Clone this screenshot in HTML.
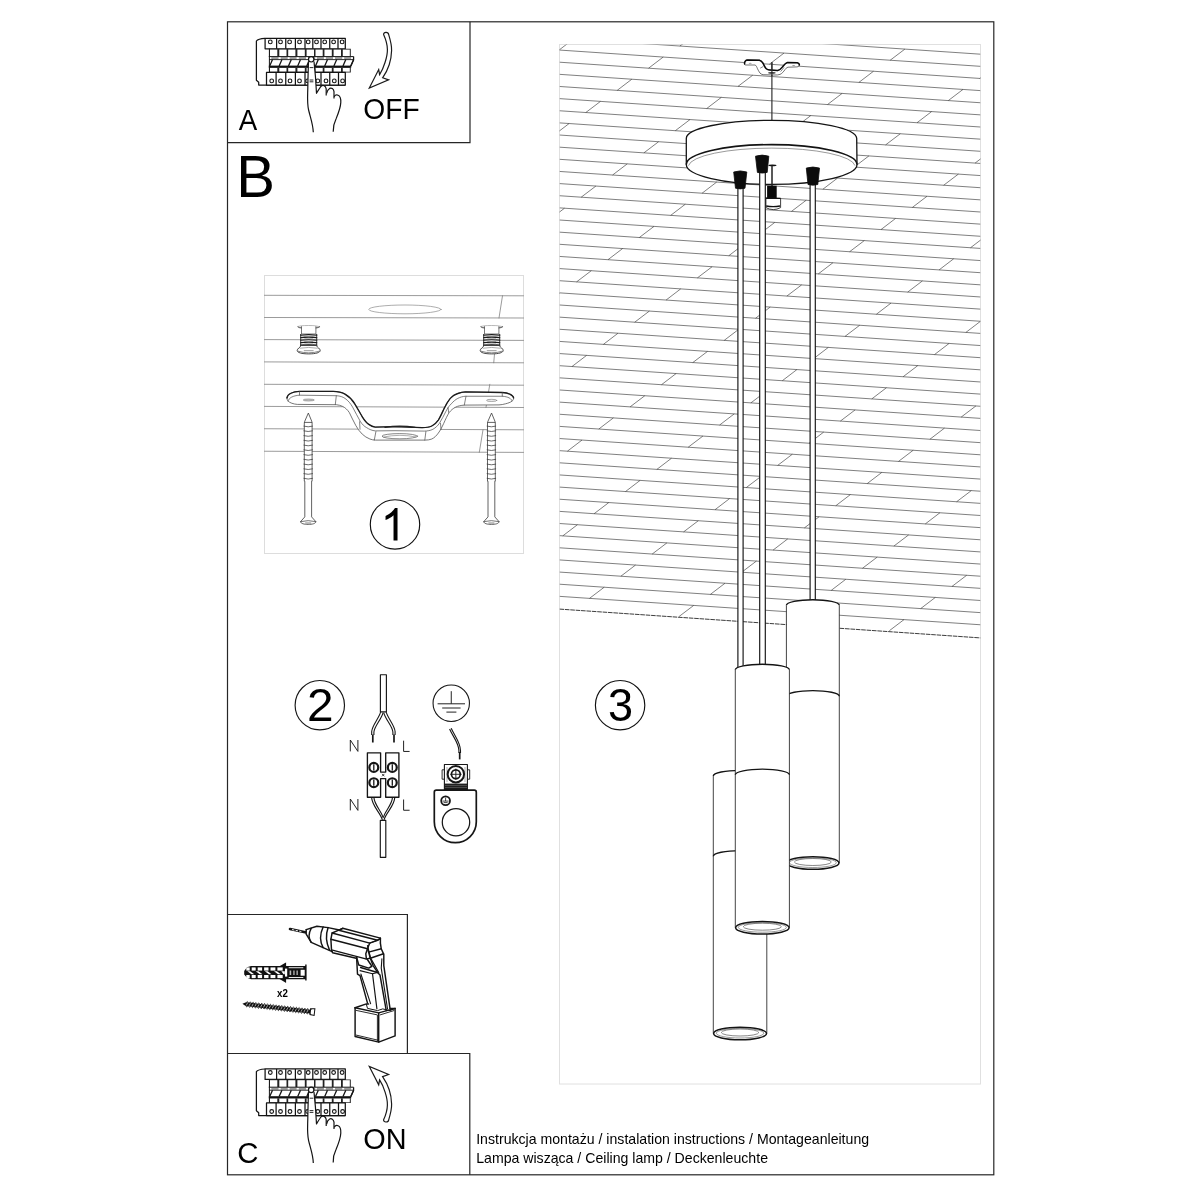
<!DOCTYPE html>
<html><head><meta charset="utf-8">
<style>
html,body{margin:0;padding:0;background:#fff;}
body{width:1200px;height:1200px;overflow:hidden;font-family:"Liberation Sans",sans-serif;}
svg{display:block;position:absolute;left:0;top:0;filter:grayscale(1);}
text{font-family:"Liberation Sans",sans-serif;fill:#000;}
</style></head><body>
<svg width="1200" height="1200" viewBox="0 0 1200 1200">
<rect width="1200" height="1200" fill="#fff"/>
<g id="frame" fill="none" stroke="#262626" stroke-width="1.2">
<rect x="227.5" y="21.8" width="766.3" height="1153"/>
<path d="M227.5 142.7H470V21.8"/>
<path d="M227.5 914.5H407.4V1053.5"/>
<path d="M227.5 1053.5H469.8V1174.8"/>
</g>
<rect x="559.5" y="44.5" width="421" height="1039.5" fill="none" stroke="#e0e0e0" stroke-width="1"/>
<rect x="264.5" y="275.5" width="259" height="278" fill="none" stroke="#ddd" stroke-width="1"/>
<g fill="none" stroke="#141414" stroke-width="1.25" stroke-linejoin="round">
<path d="M265.1 38.4 Q258 38.8 256.4 41 V80.2 L258.7 82.2 V85 H345.3"/>
<path d="M265.1 38.4H345.3V48.8H265.1Z" fill="#fff"/>
<path d="M276.6 38.4V48.8"/><path d="M285.75 38.4V48.8"/><path d="M295.4 38.4V48.8"/><path d="M305 38.4V48.8"/><path d="M312.8 38.4V48.8"/><path d="M321 38.4V48.8"/><path d="M329.75 38.4V48.8"/><path d="M338 38.4V48.8"/>
<circle cx="270.3" cy="41.9" r="1.85" stroke-width="1.1"/><circle cx="280.5" cy="41.9" r="1.85" stroke-width="1.1"/><circle cx="289.6" cy="41.9" r="1.85" stroke-width="1.1"/><circle cx="299.5" cy="41.9" r="1.85" stroke-width="1.1"/><circle cx="308.2" cy="41.9" r="1.85" stroke-width="1.1"/><circle cx="316.5" cy="41.9" r="1.85" stroke-width="1.1"/><circle cx="324.7" cy="41.9" r="1.85" stroke-width="1.1"/><circle cx="333.6" cy="41.9" r="1.85" stroke-width="1.1"/><circle cx="342.1" cy="41.9" r="1.85" stroke-width="1.1"/>
<path d="M269.2 48.8H350.8V57H269.2Z" fill="#222" stroke="none"/>
<rect x="269.9" y="49.6" width="7.40" height="7.6" fill="#fff" stroke="none"/><rect x="279.3" y="49.6" width="7.20" height="7.6" fill="#fff" stroke="none"/><rect x="288.2" y="49.6" width="7.20" height="7.6" fill="#fff" stroke="none"/><rect x="297.4" y="49.6" width="7.40" height="7.6" fill="#fff" stroke="none"/><rect x="306.59999999999997" y="49.6" width="7.40" height="7.6" fill="#fff" stroke="none"/><rect x="315.5" y="49.6" width="7.20" height="7.6" fill="#fff" stroke="none"/><rect x="324.45" y="49.6" width="7.35" height="7.6" fill="#fff" stroke="none"/><rect x="333.59999999999997" y="49.6" width="7.40" height="7.6" fill="#fff" stroke="none"/><rect x="342.8" y="49.6" width="7.00" height="7.6" fill="#fff" stroke="none"/>
<path d="M268.8 56.6H353.6V67.6H268.8Z" fill="#fff" stroke="none"/>
<rect x="271.30" y="57.1" width="7.20" height="2" fill="#9a9a9a" stroke="none"/><rect x="280.70" y="57.1" width="7.00" height="2" fill="#9a9a9a" stroke="none"/><rect x="289.60" y="57.1" width="7.00" height="2" fill="#9a9a9a" stroke="none"/><rect x="298.80" y="57.1" width="7.20" height="2" fill="#9a9a9a" stroke="none"/><rect x="308.00" y="57.1" width="7.20" height="2" fill="#9a9a9a" stroke="none"/><rect x="316.90" y="57.1" width="7.00" height="2" fill="#9a9a9a" stroke="none"/><rect x="325.85" y="57.1" width="7.15" height="2" fill="#9a9a9a" stroke="none"/><rect x="335.00" y="57.1" width="7.20" height="2" fill="#9a9a9a" stroke="none"/><rect x="344.20" y="57.1" width="6.80" height="2" fill="#9a9a9a" stroke="none"/>
<path d="M268.8 56.6H353.6" stroke-width="1"/>
<path d="M269 59.6H353.6" stroke-width="0.9"/>
<path d="M269.7 65.9L272.5 59.6" stroke-width="1.3"/><path d="M279.15 65.9L281.95 59.6" stroke-width="1.3"/><path d="M288.5 65.9L291.3 59.6" stroke-width="1.3"/><path d="M297.7 65.9L300.5 59.6" stroke-width="1.3"/><path d="M306.8 65.9L309.6 59.6" stroke-width="1.3"/><path d="M315.5 65.9L318.3 59.6" stroke-width="1.3"/><path d="M324.7 65.9L327.5 59.6" stroke-width="1.3"/><path d="M333.9 65.9L336.7 59.6" stroke-width="1.3"/><path d="M343 65.9L345.8 59.6" stroke-width="1.3"/><path d="M350.8 65.9L353.6 59.6" stroke-width="1.3"/>
<path d="M353.6 56.6V60L350.8 66"/>
<rect x="268.8" y="65.6" width="82.4" height="2.2" fill="#111" stroke="none"/>
<path d="M269.2 67.6H350.8V72.4H269.2Z" fill="#222" stroke="none"/>
<rect x="269.9" y="68" width="7.40" height="3.7" fill="#fff" stroke="none"/><rect x="279.3" y="68" width="7.20" height="3.7" fill="#fff" stroke="none"/><rect x="288.2" y="68" width="7.20" height="3.7" fill="#fff" stroke="none"/><rect x="297.4" y="68" width="7.40" height="3.7" fill="#fff" stroke="none"/><rect x="306.59999999999997" y="68" width="7.40" height="3.7" fill="#fff" stroke="none"/><rect x="315.5" y="68" width="7.20" height="3.7" fill="#fff" stroke="none"/><rect x="324.45" y="68" width="7.35" height="3.7" fill="#fff" stroke="none"/><rect x="333.59999999999997" y="68" width="7.40" height="3.7" fill="#fff" stroke="none"/><rect x="342.8" y="68" width="7.00" height="3.7" fill="#fff" stroke="none"/>
<path d="M266.5 72.4H345.3V85H266.5Z" fill="#fff"/>
<path d="M276.1 72.4V85"/><path d="M285.75 72.4V85"/><path d="M295.4 72.4V85"/><path d="M305 72.4V85"/><path d="M313 72.4V85"/><path d="M321 72.4V85"/><path d="M329.75 72.4V85"/><path d="M338.5 72.4V85"/>
<circle cx="271.7" cy="80.9" r="1.85" stroke-width="1.1"/><circle cx="280.5" cy="80.9" r="1.85" stroke-width="1.1"/><circle cx="290" cy="80.9" r="1.85" stroke-width="1.1"/><circle cx="299.5" cy="80.9" r="1.85" stroke-width="1.1"/><circle cx="307.6" cy="80.9" r="1.85" stroke-width="1.1"/><circle cx="317.8" cy="80.9" r="1.85" stroke-width="1.1"/><circle cx="326" cy="80.9" r="1.85" stroke-width="1.1"/><circle cx="334.3" cy="80.9" r="1.85" stroke-width="1.1"/><circle cx="342.6" cy="80.9" r="1.85" stroke-width="1.1"/>
<path d="M269.4 48.8V72.4" stroke-width="1"/>
<path d="M308.5 61.5 C308.2 70 307.9 80 307.8 88 C307.6 97 307 103 308.6 110 C310.5 118 313 124 313.3 132.3 L333.2 131.8 C333 127 334 123 336 119 C338.5 113 340.6 108 340.8 102.4 C341 98 340.5 96.2 338.2 95.2 C336.8 94.6 335.6 94.5 334.6 95.6 L334 98.4 L334 91.6 C333.6 88.6 331.4 87.6 329.6 88.4 C328.6 88.8 328.1 89.6 327.6 90.4 L326.2 95.4 L326.2 88.8 C325.6 85.6 323 84.8 321.4 86 C320.4 86.8 319 89 316.5 93.3 C316 83 315.2 72 314 61.5 Z" fill="#fff" stroke="none"/>
<path d="M308.5 61.5 C308.2 70 307.9 80 307.8 88 C307.6 97 307 103 308.6 110 C310.5 118 313 124 313.3 132.3" stroke-width="1.2"/>
<path d="M314 61.5 C315.2 72 316 83 316.5 93.3 C319 89 320.4 86.8 321.4 86 C323 84.8 325.6 85.6 326.2 88.8 L326.2 95.4" stroke-width="1.2"/>
<path d="M326.6 93.5 C327 91.5 327.8 89.4 329.6 88.4 C331.4 87.6 333.6 88.6 334 91.6 L334 98.4" stroke-width="1.2"/>
<path d="M334.3 96.8 C334.8 95 336.6 94.4 338.2 95.2 C340.5 96.2 341 98 340.8 102.4 C340.6 108 338.5 113 336 119 C334 123 333 127 333.2 131.8" stroke-width="1.2"/>
<circle cx="311.2" cy="59.3" r="2.7" fill="#fff" stroke-width="1.2"/>
<path d="M309.6 67.6H313.4M309.6 80H313.4M309.6 81.8H313.4" stroke-width="0.9"/>
</g>
<text x="238.65" y="130" font-size="29.5" textLength="18.5" lengthAdjust="spacingAndGlyphs">A</text>
<text x="363.35" y="118.5" font-size="29.65" textLength="56.45" lengthAdjust="spacingAndGlyphs">OFF</text>
<text x="236.25" y="196.75" font-size="58.65" textLength="38.7" lengthAdjust="spacingAndGlyphs">B</text>
<path d="M383.6 34.6 C383.3 32 388.2 31.4 388.7 34.6 C390.8 41.5 391.8 46 391.6 50.5 C391.4 57 390.3 61.5 389.2 64.7 C387.5 70 385.2 74 382.6 77.8 L388.6 79.9 L369.3 88 L378.7 69.6 L379.6 74.6 C382 71 383.8 66.5 385.1 62.3 C386.8 57 387.5 53 387.4 49.5 C387.3 44 385.6 39 383.6 34.6 Z" fill="#fff" stroke="#1a1a1a" stroke-width="1.2" stroke-linejoin="miter"/>
<g transform="translate(0 1030.6)"><g fill="none" stroke="#141414" stroke-width="1.25" stroke-linejoin="round">
<path d="M265.1 38.4 Q258 38.8 256.4 41 V80.2 L258.7 82.2 V85 H345.3"/>
<path d="M265.1 38.4H345.3V48.8H265.1Z" fill="#fff"/>
<path d="M276.6 38.4V48.8"/><path d="M285.75 38.4V48.8"/><path d="M295.4 38.4V48.8"/><path d="M305 38.4V48.8"/><path d="M312.8 38.4V48.8"/><path d="M321 38.4V48.8"/><path d="M329.75 38.4V48.8"/><path d="M338 38.4V48.8"/>
<circle cx="270.3" cy="41.9" r="1.85" stroke-width="1.1"/><circle cx="280.5" cy="41.9" r="1.85" stroke-width="1.1"/><circle cx="289.6" cy="41.9" r="1.85" stroke-width="1.1"/><circle cx="299.5" cy="41.9" r="1.85" stroke-width="1.1"/><circle cx="308.2" cy="41.9" r="1.85" stroke-width="1.1"/><circle cx="316.5" cy="41.9" r="1.85" stroke-width="1.1"/><circle cx="324.7" cy="41.9" r="1.85" stroke-width="1.1"/><circle cx="333.6" cy="41.9" r="1.85" stroke-width="1.1"/><circle cx="342.1" cy="41.9" r="1.85" stroke-width="1.1"/>
<path d="M269.2 48.8H350.8V57H269.2Z" fill="#222" stroke="none"/>
<rect x="269.9" y="49.6" width="7.40" height="7.6" fill="#fff" stroke="none"/><rect x="279.3" y="49.6" width="7.20" height="7.6" fill="#fff" stroke="none"/><rect x="288.2" y="49.6" width="7.20" height="7.6" fill="#fff" stroke="none"/><rect x="297.4" y="49.6" width="7.40" height="7.6" fill="#fff" stroke="none"/><rect x="306.59999999999997" y="49.6" width="7.40" height="7.6" fill="#fff" stroke="none"/><rect x="315.5" y="49.6" width="7.20" height="7.6" fill="#fff" stroke="none"/><rect x="324.45" y="49.6" width="7.35" height="7.6" fill="#fff" stroke="none"/><rect x="333.59999999999997" y="49.6" width="7.40" height="7.6" fill="#fff" stroke="none"/><rect x="342.8" y="49.6" width="7.00" height="7.6" fill="#fff" stroke="none"/>
<path d="M268.8 56.6H353.6V67.6H268.8Z" fill="#fff" stroke="none"/>
<rect x="271.30" y="57.1" width="7.20" height="2" fill="#9a9a9a" stroke="none"/><rect x="280.70" y="57.1" width="7.00" height="2" fill="#9a9a9a" stroke="none"/><rect x="289.60" y="57.1" width="7.00" height="2" fill="#9a9a9a" stroke="none"/><rect x="298.80" y="57.1" width="7.20" height="2" fill="#9a9a9a" stroke="none"/><rect x="308.00" y="57.1" width="7.20" height="2" fill="#9a9a9a" stroke="none"/><rect x="316.90" y="57.1" width="7.00" height="2" fill="#9a9a9a" stroke="none"/><rect x="325.85" y="57.1" width="7.15" height="2" fill="#9a9a9a" stroke="none"/><rect x="335.00" y="57.1" width="7.20" height="2" fill="#9a9a9a" stroke="none"/><rect x="344.20" y="57.1" width="6.80" height="2" fill="#9a9a9a" stroke="none"/>
<path d="M268.8 56.6H353.6" stroke-width="1"/>
<path d="M269 59.6H353.6" stroke-width="0.9"/>
<path d="M269.7 65.9L272.5 59.6" stroke-width="1.3"/><path d="M279.15 65.9L281.95 59.6" stroke-width="1.3"/><path d="M288.5 65.9L291.3 59.6" stroke-width="1.3"/><path d="M297.7 65.9L300.5 59.6" stroke-width="1.3"/><path d="M306.8 65.9L309.6 59.6" stroke-width="1.3"/><path d="M315.5 65.9L318.3 59.6" stroke-width="1.3"/><path d="M324.7 65.9L327.5 59.6" stroke-width="1.3"/><path d="M333.9 65.9L336.7 59.6" stroke-width="1.3"/><path d="M343 65.9L345.8 59.6" stroke-width="1.3"/><path d="M350.8 65.9L353.6 59.6" stroke-width="1.3"/>
<path d="M353.6 56.6V60L350.8 66"/>
<rect x="268.8" y="65.6" width="82.4" height="2.2" fill="#111" stroke="none"/>
<path d="M269.2 67.6H350.8V72.4H269.2Z" fill="#222" stroke="none"/>
<rect x="269.9" y="68" width="7.40" height="3.7" fill="#fff" stroke="none"/><rect x="279.3" y="68" width="7.20" height="3.7" fill="#fff" stroke="none"/><rect x="288.2" y="68" width="7.20" height="3.7" fill="#fff" stroke="none"/><rect x="297.4" y="68" width="7.40" height="3.7" fill="#fff" stroke="none"/><rect x="306.59999999999997" y="68" width="7.40" height="3.7" fill="#fff" stroke="none"/><rect x="315.5" y="68" width="7.20" height="3.7" fill="#fff" stroke="none"/><rect x="324.45" y="68" width="7.35" height="3.7" fill="#fff" stroke="none"/><rect x="333.59999999999997" y="68" width="7.40" height="3.7" fill="#fff" stroke="none"/><rect x="342.8" y="68" width="7.00" height="3.7" fill="#fff" stroke="none"/>
<path d="M266.5 72.4H345.3V85H266.5Z" fill="#fff"/>
<path d="M276.1 72.4V85"/><path d="M285.75 72.4V85"/><path d="M295.4 72.4V85"/><path d="M305 72.4V85"/><path d="M313 72.4V85"/><path d="M321 72.4V85"/><path d="M329.75 72.4V85"/><path d="M338.5 72.4V85"/>
<circle cx="271.7" cy="80.9" r="1.85" stroke-width="1.1"/><circle cx="280.5" cy="80.9" r="1.85" stroke-width="1.1"/><circle cx="290" cy="80.9" r="1.85" stroke-width="1.1"/><circle cx="299.5" cy="80.9" r="1.85" stroke-width="1.1"/><circle cx="307.6" cy="80.9" r="1.85" stroke-width="1.1"/><circle cx="317.8" cy="80.9" r="1.85" stroke-width="1.1"/><circle cx="326" cy="80.9" r="1.85" stroke-width="1.1"/><circle cx="334.3" cy="80.9" r="1.85" stroke-width="1.1"/><circle cx="342.6" cy="80.9" r="1.85" stroke-width="1.1"/>
<path d="M269.4 48.8V72.4" stroke-width="1"/>
<path d="M308.5 61.5 C308.2 70 307.9 80 307.8 88 C307.6 97 307 103 308.6 110 C310.5 118 313 124 313.3 132.3 L333.2 131.8 C333 127 334 123 336 119 C338.5 113 340.6 108 340.8 102.4 C341 98 340.5 96.2 338.2 95.2 C336.8 94.6 335.6 94.5 334.6 95.6 L334 98.4 L334 91.6 C333.6 88.6 331.4 87.6 329.6 88.4 C328.6 88.8 328.1 89.6 327.6 90.4 L326.2 95.4 L326.2 88.8 C325.6 85.6 323 84.8 321.4 86 C320.4 86.8 319 89 316.5 93.3 C316 83 315.2 72 314 61.5 Z" fill="#fff" stroke="none"/>
<path d="M308.5 61.5 C308.2 70 307.9 80 307.8 88 C307.6 97 307 103 308.6 110 C310.5 118 313 124 313.3 132.3" stroke-width="1.2"/>
<path d="M314 61.5 C315.2 72 316 83 316.5 93.3 C319 89 320.4 86.8 321.4 86 C323 84.8 325.6 85.6 326.2 88.8 L326.2 95.4" stroke-width="1.2"/>
<path d="M326.6 93.5 C327 91.5 327.8 89.4 329.6 88.4 C331.4 87.6 333.6 88.6 334 91.6 L334 98.4" stroke-width="1.2"/>
<path d="M334.3 96.8 C334.8 95 336.6 94.4 338.2 95.2 C340.5 96.2 341 98 340.8 102.4 C340.6 108 338.5 113 336 119 C334 123 333 127 333.2 131.8" stroke-width="1.2"/>
<circle cx="311.2" cy="59.3" r="2.7" fill="#fff" stroke-width="1.2"/>
<path d="M309.6 67.6H313.4M309.6 80H313.4M309.6 81.8H313.4" stroke-width="0.9"/>
</g>
</g>
<text x="237.2" y="1162.6" font-size="29.6" textLength="21.2" lengthAdjust="spacingAndGlyphs">C</text>
<text x="363.35" y="1149.1" font-size="29.5" textLength="43.3" lengthAdjust="spacingAndGlyphs">ON</text>
<path d="M383.6 34.6 C383.3 32 388.2 31.4 388.7 34.6 C390.8 41.5 391.8 46 391.6 50.5 C391.4 57 390.3 61.5 389.2 64.7 C387.5 70 385.2 74 382.6 77.8 L388.6 79.9 L369.3 88 L378.7 69.6 L379.6 74.6 C382 71 383.8 66.5 385.1 62.3 C386.8 57 387.5 53 387.4 49.5 C387.3 44 385.6 39 383.6 34.6 Z" transform="translate(0 1154.4) scale(1 -1)" fill="#fff" stroke="#1a1a1a" stroke-width="1.2" stroke-linejoin="miter"/>
<text x="476.2" y="1143.8" font-size="14.1" textLength="392.9" lengthAdjust="spacingAndGlyphs">Instrukcja montażu / instalation instructions / Montageanleitung</text>
<text x="476.2" y="1162.9" font-size="14.1" textLength="291.8" lengthAdjust="spacingAndGlyphs">Lampa wisząca / Ceiling lamp / Deckenleuchte</text>
<g id="p1" fill="none" stroke-linecap="round" stroke-linejoin="round">
<g stroke="#7a7a7a" stroke-width="0.75">
<path d="M264.5 295.3L523.5 295.8"/><path d="M264.5 317.5L523.5 318.0"/><path d="M264.5 339.6L523.5 340.4"/><path d="M264.5 361.9L523.5 362.8"/><path d="M264.5 384.3L523.5 385.2"/><path d="M264.5 406.4L523.5 407.5"/><path d="M264.5 428.75L523.5 429.8"/><path d="M264.5 451.25L523.5 452.4"/>
<path d="M502.5 295.8L499 318"/><path d="M495.7 340.4L493.75 362.8"/><path d="M489.8 384.3L486 407.4"/><path d="M483 429.8L479.3 452.3"/>
</g>
<ellipse cx="405" cy="309.4" rx="36.2" ry="4.4" stroke="#8a8a8a" stroke-width="0.7"/>
<g transform="translate(308.7 0)">
<path d="M-7.2 326.3V334H7.2V326.3Z" fill="#fff" stroke="none"/>
<ellipse cx="0" cy="326.8" rx="10.9" ry="1.3" stroke="#999" stroke-width="0.7" fill="#fff"/>
<path d="M-7.2 326.6V334H7.2V326.6" fill="#fff" stroke="#555" stroke-width="0.8"/>
<path d="M-10.9 326.8q1 1.2 3.6 1.2M10.9 326.8q-1 1.2 -3.6 1.2" stroke="#444" stroke-width="0.8"/>
<rect x="-8.0" y="334" width="16.0" height="11.8" fill="#fff" stroke="none"/>
<path d="M-8.0 335.2Q0 334.0 8.0 335.2" stroke="#1a1a1a" stroke-width="1.25"/><path d="M-8.0 337.6Q0 336.40000000000003 8.0 337.6" stroke="#1a1a1a" stroke-width="1.25"/><path d="M-8.0 340.2Q0 339.0 8.0 340.2" stroke="#1a1a1a" stroke-width="1.25"/><path d="M-8.0 342.7Q0 341.5 8.0 342.7" stroke="#1a1a1a" stroke-width="1.25"/><path d="M-8.0 345.2Q0 344.0 8.0 345.2" stroke="#1a1a1a" stroke-width="1.25"/><path d="M-4.0 336.4H4.0" stroke="#888" stroke-width="0.9"/><path d="M-4.0 338.9H4.0" stroke="#888" stroke-width="0.9"/><path d="M-4.0 341.4H4.0" stroke="#888" stroke-width="0.9"/><path d="M-4.0 344H4.0" stroke="#888" stroke-width="0.9"/>
<path d="M-8.0 334.4V345.7M8.0 334.4V345.7" stroke="#222" stroke-width="0.9"/>
<path d="M-7.6 345.8 C-8.6 347.5 -11.6 348.6 -11.5 350.6 C-11.4 352.6 -7.0 353.9 0 353.9 C7.0 353.9 11.4 352.6 11.5 350.6 C11.6 348.6 8.6 347.5 7.6 345.8 Z" fill="#fff" stroke="#333" stroke-width="0.9"/>
<path d="M-8.6 348.2Q0 346.6 8.6 348.2" stroke="#888" stroke-width="0.7"/>
<path d="M-10.6 351.2Q0 354.6 10.6 351.2" stroke="#555" stroke-width="0.7"/>
<path d="M-4.5 350.7H4.5" stroke="#999" stroke-width="1"/>
</g>
<g transform="translate(491.7 0)">
<path d="M-7.2 326.3V334H7.2V326.3Z" fill="#fff" stroke="none"/>
<ellipse cx="0" cy="326.8" rx="10.9" ry="1.3" stroke="#999" stroke-width="0.7" fill="#fff"/>
<path d="M-7.2 326.6V334H7.2V326.6" fill="#fff" stroke="#555" stroke-width="0.8"/>
<path d="M-10.9 326.8q1 1.2 3.6 1.2M10.9 326.8q-1 1.2 -3.6 1.2" stroke="#444" stroke-width="0.8"/>
<rect x="-8.0" y="334" width="16.0" height="11.8" fill="#fff" stroke="none"/>
<path d="M-8.0 335.2Q0 334.0 8.0 335.2" stroke="#1a1a1a" stroke-width="1.25"/><path d="M-8.0 337.6Q0 336.40000000000003 8.0 337.6" stroke="#1a1a1a" stroke-width="1.25"/><path d="M-8.0 340.2Q0 339.0 8.0 340.2" stroke="#1a1a1a" stroke-width="1.25"/><path d="M-8.0 342.7Q0 341.5 8.0 342.7" stroke="#1a1a1a" stroke-width="1.25"/><path d="M-8.0 345.2Q0 344.0 8.0 345.2" stroke="#1a1a1a" stroke-width="1.25"/><path d="M-4.0 336.4H4.0" stroke="#888" stroke-width="0.9"/><path d="M-4.0 338.9H4.0" stroke="#888" stroke-width="0.9"/><path d="M-4.0 341.4H4.0" stroke="#888" stroke-width="0.9"/><path d="M-4.0 344H4.0" stroke="#888" stroke-width="0.9"/>
<path d="M-8.0 334.4V345.7M8.0 334.4V345.7" stroke="#222" stroke-width="0.9"/>
<path d="M-7.6 345.8 C-8.6 347.5 -11.6 348.6 -11.5 350.6 C-11.4 352.6 -7.0 353.9 0 353.9 C7.0 353.9 11.4 352.6 11.5 350.6 C11.6 348.6 8.6 347.5 7.6 345.8 Z" fill="#fff" stroke="#333" stroke-width="0.9"/>
<path d="M-8.6 348.2Q0 346.6 8.6 348.2" stroke="#888" stroke-width="0.7"/>
<path d="M-10.6 351.2Q0 354.6 10.6 351.2" stroke="#555" stroke-width="0.7"/>
<path d="M-4.5 350.7H4.5" stroke="#999" stroke-width="1"/>
</g>
<path d="M287 397.9 C287.2 394 293 391.6 299.5 391.4 L333.1 391.4 C338 391.4 342 392.4 345 394.1 C349.5 396.8 352.5 400 354.75 403.8 C357.6 408.5 360 413 362.3 416.8 C364.3 420 366.4 422.8 368.8 424.4 C370.8 425.8 373 426.8 375.3 427.1 L395 426.6 L422.1 427.7 C426 427.6 429.3 427.2 431.8 426 C434.6 424.6 436.6 422.6 438.3 420.1 C440.3 417 442 413 443.75 409.25 C445.8 405 447.8 401.4 450.25 398.4 C452.4 396 454.9 394.4 457.8 393.5 C460.2 392.6 462.8 392 465.4 391.9 L502.25 392.5 C505 392.6 507.8 393.1 509.8 394.1 C512 395.2 513.6 396.4 513.6 397.9 C513.6 399.2 513 400.3 512 401.1 C510.4 402.4 508 403.2 505.5 403.8 C503.4 404.4 501.2 404.8 499 404.9 L464.3 405.1 C461 405.4 458 405.9 455.7 407.1 C453 408.5 451 410.2 449.2 412.5 C447.2 415.5 445.5 419.5 443.75 423.3 C442 427 440.4 430.4 438.3 433.1 C436.5 435.6 434.4 437.8 431.8 439 C429.8 439.8 427.6 440.1 425.3 440.1 L375.3 440.1 C373.4 440 371.6 439.7 369.9 439 C367 437.9 364.5 436.3 362.3 434.2 C359.8 431.8 357.6 428.8 355.8 425.5 C353.5 421.3 351.4 416.8 349.3 412.5 C347.5 409.8 345.4 407.8 342.8 406.5 C340.8 405.5 338.6 404.9 336.3 404.7 L297.3 404.4 C293.4 404.1 289.8 402.8 288.1 401.1 C287.2 400.1 286.9 399 287 397.9 Z" fill="#fff" stroke="#4a4a4a" stroke-width="0.75"/>
<path d="M287 397.9 C287.2 394 293 391.6 299.5 391.4 L333.1 391.4 C338 391.4 342 392.4 345 394.1 C349.5 396.8 352.5 400 354.75 403.8 C357.6 408.5 360 413 362.3 416.8 C364.3 420 366.4 422.8 368.8 424.4 C370.8 425.8 373 426.8 375.3 427.1 L395 426.6 L422.1 427.7 C426 427.6 429.3 427.2 431.8 426 C434.6 424.6 436.6 422.6 438.3 420.1 C440.3 417 442 413 443.75 409.25 C445.8 405 447.8 401.4 450.25 398.4 C452.4 396 454.9 394.4 457.8 393.5 C460.2 392.6 462.8 392 465.4 391.9 L502.25 392.5 C505 392.6 507.8 393.1 509.8 394.1 C512 395.2 513.6 396.4 513.6 397.9" stroke="#1c1c1c" stroke-width="1.35"/>
<path d="M299.5 395.2 L336.3 395.7 C340 395.9 342.8 396.9 345 398.4 C348.2 400.6 350.6 403.6 352.6 407.1 C355.2 411.8 357.7 417 360.2 421.2 C362 424.2 364.2 426.4 366.7 427.7 C369.4 429.4 372.2 430.6 375.3 430.9 L395 430.7 L424.25 431.1 C427.4 431 430.4 430.6 432.9 429.3 C435.6 427.8 437.7 425.8 439.4 423.3 C441.8 419.6 443.8 415.4 445.9 411.4 C447.4 408.4 449.1 405.8 451.3 403.8 C453.2 401.6 455.4 399.6 457.8 398.4 C460.2 397.2 462.8 396.4 465.4 396.25 L502.25 396.25" stroke="#4a4a4a" stroke-width="0.7"/>
<path d="M299.5 391.4V395.2 C293 395.6 288.6 398 288.1 401.1" stroke="#4a4a4a" stroke-width="0.7"/>
<path d="M502.25 392.5V396.25 C508 396.6 511.8 398.6 512 401.1" stroke="#4a4a4a" stroke-width="0.7"/>
<path d="M336.3 395.7L335.3 404.6M359.6 421.7L360 429.3M375.9 431.6L374.3 440.1M466 396.25L464.3 405.1M448.1 407.6L448.6 412.4M440.5 423.3L441 429.3M425.9 431.5L424.8 440.1" stroke="#4a4a4a" stroke-width="0.7"/>
<path d="M385 427.3 Q400 424.8 415 427.4" stroke="#222" stroke-width="1.2"/>
<ellipse cx="308.7" cy="400" rx="5.4" ry="1" fill="#ccc" stroke="#777" stroke-width="0.6"/>
<ellipse cx="491.75" cy="400.4" rx="5.2" ry="1.1" fill="#eee" stroke="#777" stroke-width="0.6"/>
<ellipse cx="399.8" cy="436.2" rx="17.8" ry="2.6" stroke="#555" stroke-width="0.7"/>
<path d="M383.6 437 Q400 433.6 416 437" stroke="#777" stroke-width="0.6"/>
<g transform="translate(308.2 0)" stroke="#3a3a3a" stroke-width="0.8">
<path d="M0 413.4 L-3.6 421.6 L-3.9 423 V481.2 H-3.4 V516.9 L-7.6 521.6 C-7.6 523.6 -4 524.4 0 524.4 C4 524.4 7.6 523.6 7.6 521.6 L3.4 516.9 V481.2 H3.9 V423 L3.6 421.6 Z" fill="#fff"/>
<path d="M-3.6 422.4H3.6" />
<path d="M-4.3 426.2Q0 427.5 4.3 426.2" stroke-width="0.75"/><path d="M-4.3 430.9Q0 432.2 4.3 430.9" stroke-width="0.75"/><path d="M-4.3 435.7Q0 437.0 4.3 435.7" stroke-width="0.75"/><path d="M-4.3 440.4Q0 441.8 4.3 440.4" stroke-width="0.75"/><path d="M-4.3 445.2Q0 446.5 4.3 445.2" stroke-width="0.75"/><path d="M-4.3 449.9Q0 451.2 4.3 449.9" stroke-width="0.75"/><path d="M-4.3 454.7Q0 456.0 4.3 454.7" stroke-width="0.75"/><path d="M-4.3 459.4Q0 460.8 4.3 459.4" stroke-width="0.75"/><path d="M-4.3 464.2Q0 465.5 4.3 464.2" stroke-width="0.75"/><path d="M-4.3 468.9Q0 470.2 4.3 468.9" stroke-width="0.75"/><path d="M-4.3 473.7Q0 475.0 4.3 473.7" stroke-width="0.75"/><path d="M-4.3 478.4Q0 479.8 4.3 478.4" stroke-width="0.75"/>
<path d="M-7.6 521.6Q0 519.6 7.6 521.6" stroke-width="0.7"/>
<path d="M-2.6 523h5.2" stroke="#777" stroke-width="0.9"/>
</g>
<g transform="translate(491.4 0)" stroke="#3a3a3a" stroke-width="0.8">
<path d="M0 413.4 L-3.6 421.6 L-3.9 423 V481.2 H-3.4 V516.9 L-7.6 521.6 C-7.6 523.6 -4 524.4 0 524.4 C4 524.4 7.6 523.6 7.6 521.6 L3.4 516.9 V481.2 H3.9 V423 L3.6 421.6 Z" fill="#fff"/>
<path d="M-3.6 422.4H3.6" />
<path d="M-4.3 426.2Q0 427.5 4.3 426.2" stroke-width="0.75"/><path d="M-4.3 430.9Q0 432.2 4.3 430.9" stroke-width="0.75"/><path d="M-4.3 435.7Q0 437.0 4.3 435.7" stroke-width="0.75"/><path d="M-4.3 440.4Q0 441.8 4.3 440.4" stroke-width="0.75"/><path d="M-4.3 445.2Q0 446.5 4.3 445.2" stroke-width="0.75"/><path d="M-4.3 449.9Q0 451.2 4.3 449.9" stroke-width="0.75"/><path d="M-4.3 454.7Q0 456.0 4.3 454.7" stroke-width="0.75"/><path d="M-4.3 459.4Q0 460.8 4.3 459.4" stroke-width="0.75"/><path d="M-4.3 464.2Q0 465.5 4.3 464.2" stroke-width="0.75"/><path d="M-4.3 468.9Q0 470.2 4.3 468.9" stroke-width="0.75"/><path d="M-4.3 473.7Q0 475.0 4.3 473.7" stroke-width="0.75"/><path d="M-4.3 478.4Q0 479.8 4.3 478.4" stroke-width="0.75"/>
<path d="M-7.6 521.6Q0 519.6 7.6 521.6" stroke-width="0.7"/>
<path d="M-2.6 523h5.2" stroke="#777" stroke-width="0.9"/>
</g>
<circle cx="395" cy="524.4" r="24.7" fill="#fff" stroke="#111" stroke-width="1.15"/>
</g>
<path transform="translate(380.6 540.6) scale(0.02217 -0.02217)" d="M763 0H583V1147Q518 1085 412.5 1023T223 930V1104Q373 1174.5 485.5 1275T645 1466H763Z" fill="#000"/>
<g id="s2" fill="none" stroke="#161616" stroke-width="1.1" stroke-linecap="butt" stroke-linejoin="round">
<circle cx="319.8" cy="705.2" r="24.7" stroke-width="1.15" fill="#fff"/>
<rect x="380.4" y="674.7" width="6" height="37.2" fill="#fff" stroke-width="1.15"/>
<path d="M380.6 712.2 C378.5 719 372.2 725.5 371.7 731.5 V735"/>
<path d="M383.1 712.6 C381 720 374.5 726 373.9 732 V735"/>
<path d="M386.2 712.2 C388.3 719 394.6 725.5 395.1 731.5 V735"/>
<path d="M383.7 712.6 C385.8 720 392.3 726 392.9 732 V735"/>
<path d="M372.8 734.5V742.6M394 734.5V742.6" stroke-width="1.7"/>
<path d="M380.6 772.1V752.8H367.4V797.2H380.6V778.6H385.7V797.2H398.9V752.8H385.7V772.1Z" fill="#fff" stroke-width="1.35"/>
<path d="M382 773.9l2.4 2.4m0 -2.4l-2.4 2.4" stroke-width="0.8"/>
<circle cx="373.8" cy="767.4" r="4.45" stroke-width="2.2" fill="#fff"/><path d="M373.8 764.3V770.5" stroke-width="1.3"/><circle cx="373.8" cy="782.7" r="4.45" stroke-width="2.2" fill="#fff"/><path d="M373.8 779.6V785.8000000000001" stroke-width="1.3"/><circle cx="392.3" cy="767.4" r="4.45" stroke-width="2.2" fill="#fff"/><path d="M392.3 764.3V770.5" stroke-width="1.3"/><circle cx="392.3" cy="782.7" r="4.45" stroke-width="2.2" fill="#fff"/><path d="M392.3 779.6V785.8000000000001" stroke-width="1.3"/>
<path d="M371.6 797.4 C372 806 380 812 382.4 819.8"/>
<path d="M373.9 797.4 C374.4 805 381.4 811 383.1 817.6"/>
<path d="M394.8 797.4 C394.4 806 386.4 812 384 819.8"/>
<path d="M392.5 797.4 C392 805 385 811 383.3 817.6"/>
<rect x="380.3" y="820.4" width="5.5" height="36.9" fill="#fff" stroke-width="1.15"/>
<path d="M350.3 751.4V740.0L357.90000000000003 751.4V740.0" stroke-width="0.95" stroke-linejoin="miter"/><path d="M350.3 810.4V799.0L357.90000000000003 810.4V799.0" stroke-width="0.95" stroke-linejoin="miter"/><path d="M403.6 740.6999999999999V751.4499999999999H409.6" stroke-width="0.95" stroke-linejoin="miter"/><path d="M403.6 799.5V810.25H409.6" stroke-width="0.95" stroke-linejoin="miter"/>
<circle cx="451.25" cy="703.25" r="18.2" stroke-width="1.1" fill="#fff"/>
<path d="M451.25 691.2V703.7M437.6 703.8H465M442.2 708H460.6M446.4 712.1H456.4" stroke-width="0.95"/>
<path d="M449.6 729 C452.5 736 458.6 742.5 458.9 750.5 V753"/>
<path d="M451.2 728.3 C454.3 735.4 460.4 742.5 460.5 750.5 V753"/>
<path d="M459.7 752V759.4" stroke-width="1.7"/>
<path d="M444.4 769.8H442.1V779.2H444.4M467.4 769.8H469.7V779.2H467.4" stroke-width="0.9"/>
<rect x="444.4" y="764.5" width="23" height="25.2" fill="#fff" stroke-width="1.1"/>
<path d="M447 767V782M465 767V782" stroke="#777" stroke-width="0.6"/>
<rect x="444.4" y="783.6" width="23" height="6.4" fill="#1a1a1a" stroke="none"/>
<path d="M445 785.4H467M445 787.4H467" stroke="#888" stroke-width="0.5"/>
<circle cx="455.85" cy="774.2" r="8.2" stroke-width="2" fill="#fff"/>
<circle cx="455.85" cy="774.2" r="4.4" stroke-width="1.7"/>
<path d="M455.85 768.6V780M450.2 774.3H461.6" stroke-width="0.9"/>
<path d="M436.3 790.2H474.3Q476.3 790.2 476.3 792.2V821.7A21 21 0 0 1 434.3 821.7V792.2Q434.3 790.2 436.3 790.2Z" fill="#fff" stroke-width="1.7"/>
<circle cx="456" cy="822.2" r="13.7" stroke-width="1.25"/>
<circle cx="445.6" cy="800.7" r="4.4" stroke-width="1.8"/>
<path d="M445.6 797.6V801M442.6 801.1H448.6M443.6 802.6H447.6" stroke-width="0.8"/>
</g>
<text x="307.1" y="720.9" font-size="46.05" textLength="26.55" lengthAdjust="spacingAndGlyphs">2</text>
<g id="drill" fill="none" stroke="#141414" stroke-width="1.45" stroke-linejoin="round" stroke-linecap="round">
<path d="M290 929 L306.3 932.6" stroke-width="2.6"/>
<path d="M292.4 929.6l1.6 .4M296 930.4l1.6 .4M299.6 931.2l1.4 .3" stroke="#fff" stroke-width="0.9"/>
<path d="M306.2 929.6 L316.9 926.2 L328.1 927.6 L339.4 930.0 L342.7 928.3 L380.4 938.1 L380.4 943.1 L383.8 954.4 L383.8 965.6 L390.0 1008.4 L395.1 1008.4 L395.1 1035.9 L378.7 1042.1 L355.1 1036.5 L355.1 1007.8 L366.4 1003.9 L367.5 1001.6 L360.2 974.6 L357.4 974.1 L356.8 958.3 L332.6 952.7 L323.1 947.6 L311.2 942.3 L306.2 934.1 Z" fill="#fff" stroke="none"/>
<path d="M306.2 929.6 L316.9 926.2 L328.1 927.6 L339.4 930.0" />
<path d="M306.2 929.6 L306.2 934.1 L311.2 942.3 L323.1 947.6 L332.1 951.6" />
<path d="M311.2 928.3 Q307.0 935.8 311.2 942.3"/>
<path d="M323.1 927.0 Q318.0 938.1 323.1 947.6"/>
<path d="M328.1 927.6 Q324.2 938.6 329.5 950.1"/>
<path d="M339.4 930.0 L342.7 928.3 L380.4 938.1 L380.4 943.1" />
<path d="M342.7 928.3 L338.8 930.2 L332.1 933.0 L330.9 939.2 L331.5 949.9 L332.6 952.7 L356.2 958.3" />
<path d="M338.8 930.2 L377.6 940.3" />
<path d="M332.1 933.0 L369.7 943.1" />
<path d="M330.9 939.2 L367.5 948.7" />
<path d="M331.5 949.9 L365.8 958.9" />
<path d="M380.4 938.1 L377.6 940.3 L369.7 943.1 L367.5 948.7 L365.8 953.8 L366.4 958.9 L370.3 958.3" />
<path d="M369.7 943.1 L380.4 939.2" stroke-width="1"/>
<path d="M380.4 943.1 L381.2 948.7 L383.8 954.4 L383.8 965.6 L390.0 1008.4" />
<path d="M368.6 952.1 L381.2 948.7" />
<path d="M370.3 958.3 L383.5 953.8" />
<path d="M367.5 948.7 L368.6 952.1 L370.3 958.3 L373.1 965.6 L377.6 972.4" />
<path d="M381.9 958.75 L381.25 968.1 L387.5 1008.75" stroke-width="1.1"/>
<path d="M356.6 957.2 L357.5 974.1 L360 975.6 L367.5 1003.1"/>
<path d="M360.9 974 L370.6 1003.7" stroke-width="1.1"/>
<path d="M356.6 957.2 L358.75 965 L368.75 968.1 L371.9 966.25 L366.9 958.75"/>
<path d="M360.6 967.5 L377.5 972.5 L380 975 L386.25 1010.6"/>
<path d="M360 970.6 L372.5 973.75 L377.5 972.5" stroke-width="1.1"/>
<path d="M372.5 973.75 L376.9 1008.75" stroke-width="1.2"/>
<path d="M367.5 945.6 L370.6 958.1 L378.75 972.5" stroke-width="1.2"/>
<path d="M355.1 1007.8 L366.4 1003.9 L368.6 1003.9" />
<path d="M355.1 1007.8 L355.1 1036.5 L378.7 1042.1 L395.1 1035.9 L395.1 1008.4 L390.0 1008.4" />
<path d="M355.1 1007.8 L378.7 1012.9 L395.1 1008.4" />
<path d="M378.7 1012.9 L378.7 1042.1" />
<path d="M356.2 1010.4 L377.4 1014.9 L377.4 1041.2" stroke-width="0.9"/>
<path d="M380.1 1014.9 L393.9 1010.6" stroke-width="0.9"/>
<path d="M356.2 1035.1 L377.6 1040.1" stroke-width="0.9"/>
<path d="M366.4 1004.4 L367.5 1008.4 L377.6 1010.6 L382.7 1008.9 L390.0 1010.6 L395.1 1008.4" stroke-width="1"/>
</g>
<g id="plug">
<path d="M244.2 970.9 L247.0 967.3 L251.1 966.1 L285.0 966.1 L285.0 962.9 L286.1 962.5 L286.1 966.1 L305.2 966.1 L305.2 964.5 L306.6 964.5 L306.6 980.6 L305.2 980.6 L305.2 979.2 L286.1 979.2 L286.1 982.8 L285.0 982.5 L285.0 979.2 L251.1 979.2 L247.0 977.8 L244.2 974.6 Z" fill="#111"/>
<path d="M279.5 966.3 L285.0 963.1 L285.0 966.3 Z" fill="#111"/>
<path d="M279.5 978.9 L285.0 982.2 L285.0 978.9 Z" fill="#111"/>
<path d="M246.3 967.4 L249.7 967.4 L249.7 970.6 L246.3 970.6 Z" fill="#fff"/>
<path d="M246.3 975.0 L249.7 975.0 L249.7 978.1 L246.3 978.1 Z" fill="#fff"/>
<path d="M251.7 967.4 L255.7 967.4 L255.7 970.6 L251.7 970.6 Z" fill="#fff"/>
<path d="M251.7 975.0 L255.7 975.0 L255.7 978.1 L251.7 978.1 Z" fill="#fff"/>
<path d="M257.7 967.4 L262.1 967.4 L262.1 970.6 L257.7 970.6 Z" fill="#fff"/>
<path d="M257.7 975.0 L262.1 975.0 L262.1 978.1 L257.7 978.1 Z" fill="#fff"/>
<path d="M264.1 967.4 L268.5 967.4 L268.5 970.6 L264.1 970.6 Z" fill="#fff"/>
<path d="M264.1 975.0 L268.5 975.0 L268.5 978.1 L264.1 978.1 Z" fill="#fff"/>
<path d="M270.5 967.4 L275.4 967.4 L275.4 970.6 L270.5 970.6 Z" fill="#fff"/>
<path d="M270.5 975.0 L275.4 975.0 L275.4 978.1 L270.5 978.1 Z" fill="#fff"/>
<path d="M277.4 967.4 L282.7 967.4 L282.7 970.6 L277.4 970.6 Z" fill="#fff"/>
<path d="M277.4 975.0 L282.7 975.0 L282.7 978.1 L277.4 978.1 Z" fill="#fff"/>
<path d="M247.4 971.3 L250.2 971.3 L254.2 974.2 L251.5 974.2 Z" fill="#fff"/>
<path d="M255.7 971.3 L258.4 971.3 L262.5 974.2 L259.7 974.2 Z" fill="#fff"/>
<path d="M264.8 971.3 L267.6 971.3 L271.6 974.2 L268.9 974.2 Z" fill="#fff"/>
<path d="M274.0 971.3 L276.8 971.3 L280.8 974.2 L278.0 974.2 Z" fill="#fff"/>
<path d="M281.3 971.3 L284.8 971.3 L284.8 974.2 L283.6 974.2 Z" fill="#fff"/>
<path d="M285.0 968.6 L287.2 968.6 L287.2 976.6 L285.0 976.6 Z" fill="#fff"/>
<path d="M289.6 970.5 L291.2 970.5 L291.2 975.0 L289.6 975.0 Z" fill="#bbb"/>
<path d="M293.3 970.5 L294.6 970.5 L294.6 975.0 L293.3 975.0 Z" fill="#bbb"/>
<path d="M296.5 970.5 L297.8 970.5 L297.8 975.0 L296.5 975.0 Z" fill="#bbb"/>
<path d="M300.6 969.8 L304.7 969.8 L304.7 975.7 L300.6 975.7 Z" fill="#fff"/>
<path d="M288.7 967.3 L303.3 967.3 L303.3 968.2 L288.7 968.2 Z" fill="#fff"/>
<path d="M288.7 977.0 L303.3 977.0 L303.3 977.9 L288.7 977.9 Z" fill="#fff"/>
</g>
<text x="277" y="996.6" font-size="11.2" font-weight="bold" textLength="10.8" lengthAdjust="spacingAndGlyphs">x2</text>
<g id="scr" transform="translate(242.4 1003.7) rotate(6.6)">
<path d="M0 0 L3.5 -1.9 H68.4 V2 H3.5 Z" fill="#111"/>
<path d="M68.4 -2.9 L72.6 -3.3 V3.4 L68.4 3 Z" fill="#fff" stroke="#111" stroke-width="1"/>
<path d="M5.0 -1.3l-1 2.6M7.9 -1.3l-1 2.6M10.8 -1.3l-1 2.6M13.7 -1.3l-1 2.6M16.6 -1.3l-1 2.6M19.5 -1.3l-1 2.6M22.4 -1.3l-1 2.6M25.3 -1.3l-1 2.6M28.2 -1.3l-1 2.6M31.1 -1.3l-1 2.6M34.0 -1.3l-1 2.6M36.9 -1.3l-1 2.6M39.8 -1.3l-1 2.6M42.7 -1.3l-1 2.6M45.6 -1.3l-1 2.6M48.5 -1.3l-1 2.6M51.4 -1.3l-1 2.6M54.3 -1.3l-1 2.6M57.2 -1.3l-1 2.6M60.1 -1.3l-1 2.6M63.0 -1.3l-1 2.6M65.9 -1.3l-1 2.6" stroke="#cfcfcf" stroke-width="0.75"/>
<path d="M4.0 -1.9l.7 -.8l.7 .8M4.0 2l.7 .8l.7 -.8M6.9 -1.9l.7 -.8l.7 .8M6.9 2l.7 .8l.7 -.8M9.8 -1.9l.7 -.8l.7 .8M9.8 2l.7 .8l.7 -.8M12.7 -1.9l.7 -.8l.7 .8M12.7 2l.7 .8l.7 -.8M15.6 -1.9l.7 -.8l.7 .8M15.6 2l.7 .8l.7 -.8M18.5 -1.9l.7 -.8l.7 .8M18.5 2l.7 .8l.7 -.8M21.4 -1.9l.7 -.8l.7 .8M21.4 2l.7 .8l.7 -.8M24.3 -1.9l.7 -.8l.7 .8M24.3 2l.7 .8l.7 -.8M27.2 -1.9l.7 -.8l.7 .8M27.2 2l.7 .8l.7 -.8M30.1 -1.9l.7 -.8l.7 .8M30.1 2l.7 .8l.7 -.8M33.0 -1.9l.7 -.8l.7 .8M33.0 2l.7 .8l.7 -.8M35.9 -1.9l.7 -.8l.7 .8M35.9 2l.7 .8l.7 -.8M38.8 -1.9l.7 -.8l.7 .8M38.8 2l.7 .8l.7 -.8M41.7 -1.9l.7 -.8l.7 .8M41.7 2l.7 .8l.7 -.8M44.6 -1.9l.7 -.8l.7 .8M44.6 2l.7 .8l.7 -.8M47.5 -1.9l.7 -.8l.7 .8M47.5 2l.7 .8l.7 -.8M50.4 -1.9l.7 -.8l.7 .8M50.4 2l.7 .8l.7 -.8M53.3 -1.9l.7 -.8l.7 .8M53.3 2l.7 .8l.7 -.8M56.2 -1.9l.7 -.8l.7 .8M56.2 2l.7 .8l.7 -.8M59.1 -1.9l.7 -.8l.7 .8M59.1 2l.7 .8l.7 -.8M62.0 -1.9l.7 -.8l.7 .8M62.0 2l.7 .8l.7 -.8M64.9 -1.9l.7 -.8l.7 .8M64.9 2l.7 .8l.7 -.8M67.8 -1.9l.7 -.8l.7 .8M67.8 2l.7 .8l.7 -.8" stroke="#111" stroke-width="0.8" fill="none"/>
</g>
<defs><clipPath id="c3"><rect x="559.5" y="44.5" width="421" height="640"/></clipPath></defs>
<g id="ceil" clip-path="url(#c3)" fill="none" stroke="#303030" stroke-width="0.62" stroke-linecap="butt">
<path d="M559.5 13.63L980.5 42.05M559.5 25.77L980.5 54.19M559.5 37.91L980.5 66.33M559.5 50.05L980.5 78.47M559.5 62.19L980.5 90.61M559.5 74.33L980.5 102.75M559.5 86.47L980.5 114.89M559.5 98.61L980.5 127.03M559.5 110.75L980.5 139.17M559.5 122.89L980.5 151.31M559.5 135.03L980.5 163.45M559.5 147.17L980.5 175.59M559.5 159.31L980.5 187.73M559.5 171.45L980.5 199.87M559.5 183.59L980.5 212.01M559.5 195.73L980.5 224.15M559.5 207.87L980.5 236.29M559.5 220.01L980.5 248.43M559.5 232.15L980.5 260.57M559.5 244.29L980.5 272.71M559.5 256.43L980.5 284.85M559.5 268.57L980.5 296.99M559.5 280.71L980.5 309.13M559.5 292.85L980.5 321.27M559.5 304.99L980.5 333.41M559.5 317.13L980.5 345.55M559.5 329.27L980.5 357.69M559.5 341.41L980.5 369.83M559.5 353.55L980.5 381.97M559.5 365.69L980.5 394.11M559.5 377.83L980.5 406.25M559.5 389.97L980.5 418.39M559.5 402.11L980.5 430.53M559.5 414.25L980.5 442.67M559.5 426.39L980.5 454.81M559.5 438.53L980.5 466.95M559.5 450.67L980.5 479.09M559.5 462.81L980.5 491.23M559.5 474.95L980.5 503.37M559.5 487.09L980.5 515.51M559.5 499.23L980.5 527.65M559.5 511.37L980.5 539.79M559.5 523.51L980.5 551.93M559.5 535.65L980.5 564.07M559.5 547.79L980.5 576.21M559.5 559.93L980.5 588.35M559.5 572.07L980.5 600.49M559.5 584.21L980.5 612.63M559.5 596.35L980.5 624.77"/>
<path d="M605.1 16.71L590.4 27.86M815.4 30.90L800.7 42.05M694.6 34.89L679.9 46.04M904.9 49.08L890.2 60.23M573.7 38.87L559.1 50.02M784.0 53.07L769.4 64.22M994.3 67.26L979.7 78.41M663.2 57.05L648.6 68.20M873.5 71.25L858.9 82.40M752.7 75.23L738.0 86.38M963.0 89.42L948.3 100.58M631.8 79.21L617.2 90.36M842.1 93.41L827.5 104.56M721.3 97.39L706.7 108.54M931.6 111.59L917.0 122.74M600.5 101.38L585.8 112.53M810.8 115.57L796.1 126.72M690.0 119.56L675.3 130.71M900.3 133.75L885.6 144.90M569.1 123.54L554.5 134.69M779.4 137.74L764.8 148.89M989.7 151.93L975.1 163.08M658.6 141.72L643.9 152.87M868.9 155.91L854.2 167.07M748.1 159.90L733.4 171.05M958.4 174.09L943.7 185.24M627.2 163.88L612.6 175.03M837.5 178.08L822.9 189.23M716.7 182.06L702.1 193.21M927.0 196.26L912.4 207.41M595.9 186.05L581.2 197.20M806.2 200.24L791.5 211.39M685.3 204.22L670.7 215.38M895.6 218.42L881.0 229.57M564.5 208.21L549.9 219.36M774.8 222.40L760.2 233.56M985.1 236.60L970.5 247.75M654.0 226.39L639.3 237.54M864.3 240.58L849.6 251.73M743.4 244.57L728.8 255.72M953.7 258.76L939.1 269.91M622.6 248.55L608.0 259.70M832.9 262.75L818.3 273.90M712.1 266.73L697.4 277.88M922.4 280.93L907.7 292.08M591.3 270.71L576.6 281.87M801.6 284.91L786.9 296.06M680.7 288.89L666.1 300.04M891.0 303.09L876.4 314.24M559.9 292.88L545.3 304.03M770.2 307.07L755.6 318.22M980.5 321.27L965.9 332.42M649.4 311.06L634.7 322.21M859.7 325.25L845.0 336.40M738.8 329.24L724.2 340.39M949.1 343.43L934.5 354.58M618.0 333.22L603.4 344.37M828.3 347.42L813.7 358.57M707.5 351.40L692.8 362.55M917.8 365.59L903.1 376.75M586.6 355.38L572.0 366.53M796.9 369.58L782.3 380.73M676.1 373.56L661.5 384.71M886.4 387.76L871.8 398.91M555.3 377.55L540.6 388.70M765.6 391.74L750.9 402.89M975.9 405.94L961.2 417.09M644.8 395.73L630.1 406.88M855.1 409.92L840.4 421.07M734.2 413.90L719.6 425.06M944.5 428.10L929.9 439.25M613.4 417.89L598.8 429.04M823.7 432.08L809.1 443.24M702.9 436.07L688.2 447.22M913.2 450.26L898.5 461.41M582.0 440.05L567.4 451.20M792.3 454.25L777.7 465.40M671.5 458.23L656.9 469.38M881.8 472.43L867.2 483.58M761.0 476.41L746.3 487.56M971.3 490.61L956.6 501.76M640.1 480.39L625.5 491.55M850.4 494.59L835.8 505.74M729.6 498.57L715.0 509.72M939.9 512.77L925.3 523.92M608.8 502.56L594.1 513.71M819.1 516.75L804.4 527.90M698.3 520.74L683.6 531.89M908.6 534.93L893.9 546.08M577.4 524.72L562.8 535.87M787.7 538.92L773.1 550.07M998.0 553.11L983.4 564.26M666.9 542.90L652.2 554.05M877.2 557.10L862.5 568.25M756.4 561.08L741.7 572.23M966.7 575.27L952.0 586.43M635.5 565.06L620.9 576.21M845.8 579.26L831.2 590.41M725.0 583.24L710.4 594.39M935.3 597.44L920.7 608.59M604.2 587.23L589.5 598.38M814.5 601.42L799.8 612.57M693.7 605.41L679.0 616.56M904.0 619.60L889.3 630.75"/>
<path d="M559.5 609.09L980.5 637.91" stroke-dasharray="4.6 0.8" stroke="#1a1a1a" stroke-width="0.85"/>
</g>
<g id="lamp" fill="none" stroke="#141414" stroke-linecap="butt" stroke-linejoin="round">
<path d="M771.9 62.2V121" stroke="#2a2a2a" stroke-width="1.15"/>
<path d="M744.4 63.4 C744.6 61 746 60.1 747.5 60 L759.4 60.2 C761.6 60.6 762.4 62 763.1 63.4 C764.2 65.6 765 67.6 766.25 68.75 C767.4 69.8 768.6 70 770 70 L777.6 70.6 C779.6 70.4 781 68.8 782.5 66.9 C784 65 785.4 62.9 787.5 62.5 L797.2 62.7 C798.6 63 799.4 63.8 799.4 64.7 C799.2 66 798.2 66.8 796.9 66.9 L788.1 67.2 C786.4 67.6 785.8 68.6 785 69.6 C783.6 71.6 782 73.6 780 74.4 C778.4 75 776.6 75 775 75 L763.1 74.7 C761.6 74.4 760.6 73.8 760 73.1 C758.8 71.6 758.2 70 757.5 68.75 C756.8 67 756.2 65.4 755 65 L745.6 65 C744.8 64.8 744.4 64.2 744.4 63.4 Z" fill="#fff" stroke="#333" stroke-width="0.7"/>
<path d="M744.6 63.9 C744.4 61.2 746 60.1 747.5 60 L759.4 60.2 C761.6 60.6 762.4 62 763.1 63.4 C764.2 65.6 765 67.6 766.25 68.75 C767.4 69.8 768.6 70 770 70 L777.6 70.6 C779.6 70.4 781 68.8 782.5 66.9 C784 65 785.4 62.9 787.5 62.5 L797.2 62.7 C798.6 63 799.5 63.8 799.3 65" stroke="#0a0a0a" stroke-width="1.5" stroke-linecap="round"/>
<path d="M760.2 68.2L763.4 66.4M780.6 71.6L784 67.4" stroke="#333" stroke-width="0.6"/>
<ellipse cx="750.2" cy="63.2" rx="1.5" ry="0.5" fill="#999" stroke="none"/><ellipse cx="793.6" cy="65.5" rx="1.5" ry="0.5" fill="#999" stroke="none"/>
<ellipse cx="771.9" cy="72.9" rx="3.8" ry="0.8" fill="#333" stroke="none"/>
<path d="M771.9 62.2V76" stroke="#2a2a2a" stroke-width="1.15"/>
<path d="M686.3 138.6 A85.2 18.1 0 0 1 856.7 138.3 L857 164.5 A85.3 19.9 0 0 1 686.3 164.5 Z" fill="#fff" stroke-width="1.3"/>
<path d="M686.3 164.5 A85.3 19.9 0 0 1 857 164.5" stroke-width="1.6"/>
<path d="M688.5 165.6 A83.4 18.6 0 0 1 855 165.6" stroke="#555" stroke-width="0.6"/>
<ellipse cx="772.4" cy="165.4" rx="4.1" ry="0.8" fill="#111" stroke="none"/>
<path d="M772 165.5V186.5" stroke-width="1.5" stroke="#222"/>
<rect x="767.1" y="185.8" width="9.6" height="12.2" fill="#0a0a0a" stroke="none"/>
<path d="M765.9 198.4 H780.6 V207.6 Q773.2 211.6 765.9 207.6 Z" fill="#fff" stroke="#2a2a2a" stroke-width="0.9"/>
<path d="M765.9 198.4H780.6" stroke="#111" stroke-width="1.2"/>
<path d="M766.2 206 Q773.2 207.4 780 206" stroke="#111" stroke-width="1.3"/>
<rect x="810.1" y="183" width="5.199999999999932" height="418" fill="#fff" stroke="none"/><path d="M810.1 183V601M815.3 183V601" stroke-width="1.15"/>
<rect x="737.9" y="186" width="5.2000000000000455" height="482" fill="#fff" stroke="none"/><path d="M737.9 186V668M743.1 186V668" stroke-width="1.15"/>
<rect x="759.7" y="171" width="5.599999999999909" height="495" fill="#fff" stroke="none"/><path d="M759.7 171V666M765.3 171V666" stroke-width="1.15"/>
<path d="M733.7 172.0 Q740.25 169.8 746.8 172.0 L745 188.2 Q740.25 189.6 735.5 188.2 Z" fill="#0c0c0c" stroke="#0c0c0c" stroke-width="0.8"/>
<path d="M755.5 156.2 Q762.15 154.0 768.8 156.2 L767.2 172.4 Q762.3 173.8 757.4 172.4 Z" fill="#0c0c0c" stroke="#0c0c0c" stroke-width="0.8"/>
<path d="M806.3 168.1 Q812.9 165.9 819.5 168.1 L817.8 184.5 Q812.9 185.9 808 184.5 Z" fill="#0c0c0c" stroke="#0c0c0c" stroke-width="0.8"/>
<path d="M786.4 605.3 A26.44999999999999 5.6 0 0 1 839.3 605.3 V863.0 A26.44999999999999 6.3 0 0 1 786.4 863.0 Z" fill="#fff" stroke="none"/>
<path d="M786.4 605.3V863.0M839.3 605.3V863.0" stroke="#222" stroke-width="0.85"/>
<path d="M786.4 605.3 A26.44999999999999 5.6 0 0 1 839.3 605.3" stroke-width="1.4"/>
<path d="M786.4 696.2 A26.44999999999999 5.6 0 0 1 839.3 696.2" stroke-width="1.3"/>
<ellipse cx="812.8499999999999" cy="863.0" rx="26.149999999999988" ry="6.3" fill="#fff" stroke-width="1.5"/>
<ellipse cx="812.8499999999999" cy="862.7" rx="23.44999999999999" ry="4.8" stroke="#555" stroke-width="0.6"/>
<ellipse cx="812.8499999999999" cy="862.0" rx="18.44999999999999" ry="3.5" stroke="#555" stroke-width="0.7"/>
<path d="M713.3 776.0 A26.75 5.6 0 0 1 766.8 776.0 V1033.5 A26.75 6.3 0 0 1 713.3 1033.5 Z" fill="#fff" stroke="none"/>
<path d="M713.3 776.0V1033.5M766.8 776.0V1033.5" stroke="#222" stroke-width="0.85"/>
<path d="M713.3 776.0 A26.75 5.6 0 0 1 766.8 776.0" stroke-width="1.4"/>
<path d="M713.3 856.2 A26.75 5.6 0 0 1 766.8 856.2" stroke-width="1.3"/>
<ellipse cx="740.05" cy="1033.5" rx="26.45" ry="6.3" fill="#fff" stroke-width="1.5"/>
<ellipse cx="740.05" cy="1033.2" rx="23.75" ry="4.8" stroke="#555" stroke-width="0.6"/>
<ellipse cx="740.05" cy="1032.5" rx="18.75" ry="3.5" stroke="#555" stroke-width="0.7"/>
<path d="M735.3 669.8 A27.05000000000001 5.6 0 0 1 789.4 669.8 V927.7 A27.05000000000001 6.3 0 0 1 735.3 927.7 Z" fill="#fff" stroke="none"/>
<path d="M735.3 669.8V927.7M789.4 669.8V927.7" stroke="#222" stroke-width="0.85"/>
<path d="M735.3 669.8 A27.05000000000001 5.6 0 0 1 789.4 669.8" stroke-width="1.4"/>
<path d="M735.3 774.8 A27.05000000000001 5.6 0 0 1 789.4 774.8" stroke-width="1.3"/>
<ellipse cx="762.3499999999999" cy="927.7" rx="26.75000000000001" ry="6.3" fill="#fff" stroke-width="1.5"/>
<ellipse cx="762.3499999999999" cy="927.4000000000001" rx="24.05000000000001" ry="4.8" stroke="#555" stroke-width="0.6"/>
<ellipse cx="762.3499999999999" cy="926.7" rx="19.05000000000001" ry="3.5" stroke="#555" stroke-width="0.7"/>
</g>
<circle cx="620.1" cy="705.2" r="24.7" fill="#fff" stroke="#111" stroke-width="1.15"/>
<text x="608.05" y="721.25" font-size="46.3" textLength="25.05" lengthAdjust="spacingAndGlyphs">3</text>
</svg>
</body></html>
